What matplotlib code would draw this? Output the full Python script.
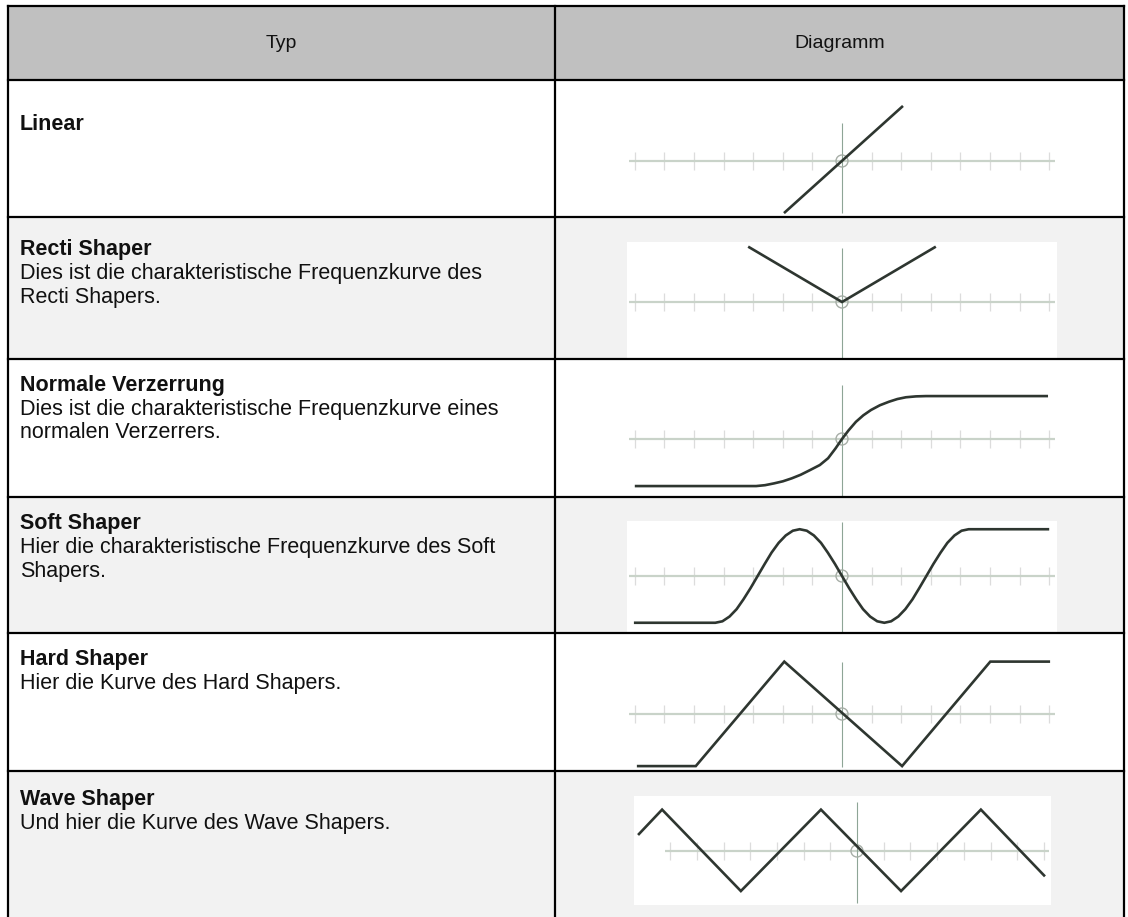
import numpy as np
import matplotlib.pyplot as plt
from matplotlib.patches import Rectangle, Circle

plt.rcParams['font.family'] = ['Liberation Sans', 'DejaVu Sans']

W, H = 1128, 917

# table text
header = ['Typ', 'Diagramm']
types = ['Linear', 'Recti Shaper', 'Normale Verzerrung', 'Soft Shaper', 'Hard Shaper', 'Wave Shaper']
descriptions = [
    [],
    ['Dies ist die charakteristische Frequenzkurve des', 'Recti Shapers.'],
    ['Dies ist die charakteristische Frequenzkurve eines', 'normalen Verzerrers.'],
    ['Hier die charakteristische Frequenzkurve des Soft', 'Shapers.'],
    ['Hier die Kurve des Hard Shapers.'],
    ['Und hier die Kurve des Wave Shapers.'],
]

# transfer curves, x in tick units (0 = centre), y in the same units
linear_x = [-1.96, 2.06]
linear_y = [-1.76, 1.86]

recti_x = [-3.17, 0.0, 3.17]
recti_y = [1.87, 0.0, 1.87]

normal_x = [-7.0, -2.9, -2.6, -2.3, -2.0, -1.7, -1.4, -1.08, -0.75, -0.47, -0.22, 0.0,
            0.22, 0.47, 0.72, 0.98, 1.28, 1.59, 1.87, 2.16, 2.5, 2.84, 6.96]
normal_y = [-1.59, -1.59, -1.56, -1.5, -1.43, -1.33, -1.21, -1.05, -0.88, -0.65, -0.32, 0.0,
            0.29, 0.58, 0.80, 0.98, 1.14, 1.26, 1.35, 1.41, 1.44, 1.45, 1.45]

soft_x = [-7.03, -4.28, -4.04, -3.80, -3.56, -3.33, -3.09, -2.85, -2.61, -2.38, -2.14, -1.90,
          -1.66, -1.43, -1.19, -0.95, -0.71, -0.48, -0.24, 0.0, 0.24, 0.48, 0.71, 0.95, 1.19,
          1.43, 1.66, 1.90, 2.14, 2.38, 2.61, 2.85, 3.09, 3.33, 3.56, 3.80, 4.04, 4.28, 7.0]
soft_y = [-1.58, -1.58, -1.53, -1.37, -1.12, -0.79, -0.41, 0.0, 0.41, 0.79, 1.12, 1.37,
          1.53, 1.58, 1.53, 1.37, 1.12, 0.79, 0.41, 0.0, -0.41, -0.79, -1.12, -1.37, -1.53,
          -1.58, -1.53, -1.37, -1.12, -0.79, -0.41, 0.0, 0.41, 0.79, 1.12, 1.37, 1.53, 1.58, 1.58]

hard_x = [-6.93, -4.94, -1.95, 2.03, 5.01, 7.03]
hard_y = [-1.76, -1.76, 1.77, -1.76, 1.77, 1.77]

wave_x = [-8.2, -7.3, -4.35, -1.35, 1.65, 4.64, 7.04]
wave_y = [0.6, 1.55, -1.5, 1.55, -1.5, 1.55, -0.95]

curves = [(linear_x, linear_y), (recti_x, recti_y), (normal_x, normal_y),
          (soft_x, soft_y), (hard_x, hard_y), (wave_x, wave_y)]
tick_pos = [t for t in range(-7, 8) if t != 0]

# layout in pixels
col_x = [8, 555, 1124]
row_y = [6, 80, 217, 359, 497, 633, 771, 917]
row_bg = ['#c0c0c0', 'white', '#f2f2f2', 'white', '#f2f2f2', 'white', '#f2f2f2']
text_y = [125, 249, 385, 524, 660, 800]
line_gap = 24
# x0, y0, x1, y1, centre x, centre y, px per unit, vline top, vline bottom
diagrams = [
    (627, 88, 1057, 216, 842, 161, 29.6, 1.3, -1.76),
    (627, 242, 1057, 358, 842, 302, 29.6, 1.81, -1.89),
    (627, 370, 1057, 496, 842, 439, 29.6, 1.82, -1.96),
    (627, 521, 1057, 632, 842, 576, 29.6, 1.81, -1.89),
    (627, 650, 1057, 770, 842, 714, 29.6, 1.77, -1.78),
    (634, 796, 1051, 905, 857, 851, 26.7, 1.85, -1.95),
]

fig = plt.figure(figsize=(W / 100, H / 100), dpi=100)
ax = fig.add_axes([0, 0, 1, 1])
ax.set_xlim(0, W)
ax.set_ylim(H, 0)
ax.axis('off')

# row backgrounds
for i, bg in enumerate(row_bg):
    ax.add_patch(Rectangle((col_x[0], row_y[i]), col_x[2] - col_x[0], row_y[i + 1] - row_y[i],
                           facecolor=bg, edgecolor='none'))

# header
for j, h in enumerate(header):
    ax.text((col_x[j] + col_x[j + 1]) / 2, (row_y[0] + row_y[1]) / 2, h,
            ha='center', va='center', fontsize=14, color='#111111')

# left column text
for i, t in enumerate(types):
    ax.text(20, text_y[i], t, ha='left', va='center', fontsize=15.5, fontweight='bold', color='#111111')
    for k, line in enumerate(descriptions[i]):
        ax.text(20, text_y[i] + (k + 1) * line_gap, line, ha='left', va='center',
                fontsize=15.5, color='#111111')

# diagrams
for i, (x0, y0, x1, y1, cx, cy, u, vtop, vbot) in enumerate(diagrams):
    dax = fig.add_axes([x0 / W, 1 - y1 / H, (x1 - x0) / W, (y1 - y0) / H])
    dax.set_xlim((x0 - cx) / u, (x1 - cx) / u)
    dax.set_ylim((cy - y1) / u, (cy - y0) / u)
    dax.set_facecolor('white')
    dax.set_xticks([])
    dax.set_yticks([])
    for s in dax.spines.values():
        s.set_visible(False)
    th = 9 / u
    dax.vlines(tick_pos, -th, th, color='#dcdcdc', linewidth=0.9, zorder=1)
    dax.hlines(0, -7.2, 7.2, color='#c9d3c9', linewidth=1.6, zorder=2)
    dax.vlines(0, vbot, vtop, color='#8ea596', linewidth=0.8, zorder=2)
    dax.add_patch(Circle((0, 0), 6 / u, facecolor='none', edgecolor='#a7aea7',
                         linewidth=1.0, zorder=3))
    cxs, cys = curves[i]
    dax.plot(cxs, cys, color='#2e3630', linewidth=1.9, zorder=4,
             solid_joinstyle='miter', solid_capstyle='butt')

# borders on top
top = fig.add_axes([0, 0, 1, 1])
top.set_xlim(0, W)
top.set_ylim(H, 0)
top.axis('off')
top.patch.set_alpha(0)
for y in row_y[:-1]:
    top.plot([col_x[0], col_x[2]], [y, y], color='black', linewidth=1.6, solid_capstyle='projecting')
for x in col_x:
    top.plot([x, x], [row_y[0], row_y[-1]], color='black', linewidth=1.6, solid_capstyle='projecting')

fig.savefig('out.png', dpi=100)
